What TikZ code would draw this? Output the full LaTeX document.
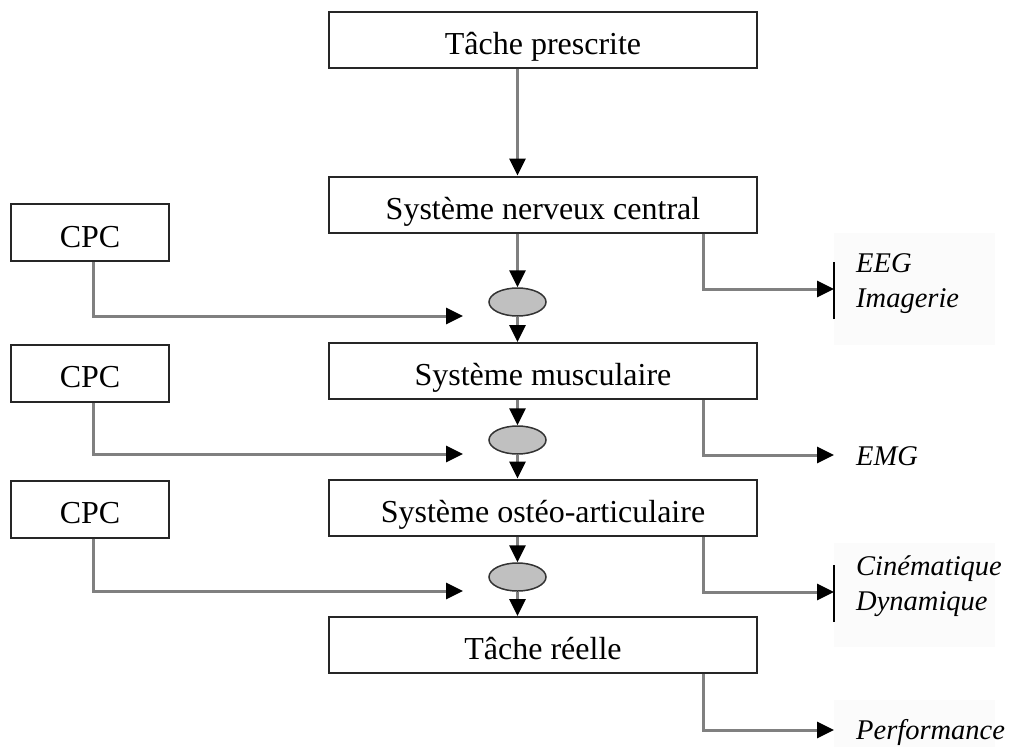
\documentclass[tikz,border=0pt]{standalone}
\usepackage{fontspec}
\setmainfont{Liberation Serif}
\usetikzlibrary{arrows.meta,shapes.geometric}
\definecolor{conngray}{RGB}{128,128,128}
\definecolor{ellgray}{RGB}{192,192,192}
\definecolor{labbg}{RGB}{251,251,251}
\tikzset{
  sysbox/.style={draw=black!85, line width=2pt, fill=white, minimum width=428pt, minimum height=56pt, inner sep=0pt, text height=29pt, text depth=0pt, font=\fontsize{32}{38}\selectfont},
  cpcbox/.style={draw=black!85, line width=2pt, fill=white, minimum width=158pt, minimum height=57pt, inner sep=0pt, text height=29pt, text depth=0pt, font=\fontsize{32}{38}\selectfont},
  junction/.style={ellipse, draw=black!80, line width=1.5pt, fill=ellgray, minimum width=57pt, minimum height=28pt, inner sep=0pt},
  conn/.style={draw=conngray, line width=3pt, -{Triangle[length=17pt,width=16pt,color=black]}},
  bar/.style={draw=black, line width=2pt},
  lab/.style={anchor=base west, inner sep=0pt, font=\fontsize{28.5}{35}\selectfont\itshape}
}
\begin{document}
\begin{tikzpicture}[x=1pt,y=-1pt]
\useasboundingbox (0,0) rectangle (1010,747);
% faint label backgrounds
\fill[labbg] (834,233) rectangle (995,345);
\fill[labbg] (834,543) rectangle (995,647);
\fill[labbg] (834,700) rectangle (995,747);

% main column
\node[sysbox] (prescr) at (543,39.5) {Tâche prescrite};
\node[sysbox] (nerv) at (543,204.5) {Système nerveux central};
\node[sysbox] (musc) at (543,371) {Système musculaire};
\node[sysbox] (osteo) at (543,507.5) {Système ostéo-articulaire};
\node[sysbox] (reel) at (543,645) {Tâche réelle};

% junctions
\node[junction] (j1) at (517.5,302) {};
\node[junction] (j2) at (517.5,440) {};
\node[junction] (j3) at (517.5,577) {};

% CPC boxes
\node[cpcbox] (cpc1) at (90,232.5) {CPC};
\node[cpcbox] (cpc2) at (90,373) {CPC};
\node[cpcbox] (cpc3) at (90,509) {CPC};

% coordinates
\coordinate (ax) at (517.5,0);
\coordinate (rx) at (703,0);
\coordinate (cx) at (93,0);
\coordinate (t1) at (463,316);
\coordinate (t2) at (463,454);
\coordinate (t3) at (463,591);
\coordinate (eegtip) at (834,289);
\coordinate (emgtip) at (834,455);
\coordinate (cintip) at (834,592);
\coordinate (perftip) at (834,730);

% vertical chain
\draw[conn] (prescr.south -| ax) -- (nerv.north -| ax);
\draw[conn] (nerv.south -| ax) -- (j1.north);
\draw[conn] (j1.south) -- (musc.north -| ax);
\draw[conn] (musc.south -| ax) -- (j2.north);
\draw[conn] (j2.south) -- (osteo.north -| ax);
\draw[conn] (osteo.south -| ax) -- (j3.north);
\draw[conn] (j3.south) -- (reel.north -| ax);

% CPC arrows
\draw[conn] (cpc1.south -| cx) |- (t1);
\draw[conn] (cpc2.south -| cx) |- (t2);
\draw[conn] (cpc3.south -| cx) |- (t3);

% outputs
\draw[conn] (nerv.south -| rx) |- (eegtip);
\draw[conn] (musc.south -| rx) |- (emgtip);
\draw[conn] (osteo.south -| rx) |- (cintip);
\draw[conn] (reel.south -| rx) |- (perftip);

\draw[bar] ([yshift=-30pt]eegtip) -- ([yshift=27pt]eegtip);
\draw[bar] ([yshift=-30pt]cintip) -- ([yshift=27pt]cintip);

% labels
\node[lab] (eeg) at (856,272) {EEG};
\node[lab] (imag) at (856,307) {Imagerie};
\node[lab] (emg) at (856,465) {EMG};
\node[lab] (cin) at (856,575) {Cinématique};
\node[lab] (dyn) at (856,610) {Dynamique};
\node[lab] (perf) at (856,739) {Performance};
\end{tikzpicture}
\end{document}
